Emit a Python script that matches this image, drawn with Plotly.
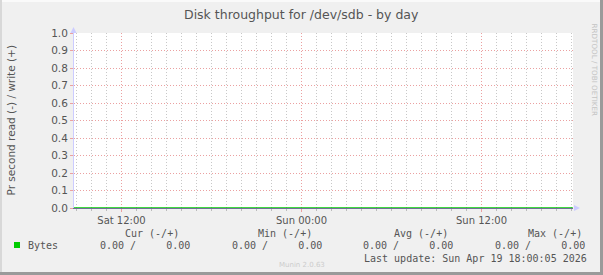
import plotly.graph_objects as go
import pandas as pd

# ---- data ----
times = pd.date_range("2026-04-18 08:50", "2026-04-19 18:05", freq="5min")
read_vals = [0.0] * len(times)
write_vals = [0.0] * len(times)
x_range = ["2026-04-18 08:50", "2026-04-19 18:06"]
title = "Disk throughput for /dev/sdb - by day"
y_title = "Pr second read (-) / write (+)"
series_name = "Bytes"
col_headers = ["Cur (-/+)", "Min (-/+)", "Avg (-/+)", "Max (-/+)"]
col_values = ["0.00 /     0.00", "0.00 /     0.00", "0.00 /     0.00", "0.00 /     0.00"]
last_update = "Last update: Sun Apr 19 18:00:05 2026"
footer = "Munin 2.0.63"
side_text = "RRDTOOL / TOBI OETIKER"

W, H = 603, 275
L, R, T, B = 74, 30, 33, 67
PW, PH = W - L - R, H - T - B


def px(x):
    return (x - L) / PW


def py(y):
    return (H - B - y) / PH


fig = go.Figure()
fig.add_trace(go.Scatter(x=times, y=[-v for v in read_vals], mode="lines",
                         line=dict(color="#00cc00", width=1), showlegend=False, hoverinfo="skip"))
fig.add_trace(go.Scatter(x=times, y=write_vals, mode="lines",
                         line=dict(color="#00cc00", width=1), showlegend=False, hoverinfo="skip"))

mono = "DejaVu Sans Mono"
sans = "DejaVu Sans"
ann = []


def add_text(x, y, text, size, family, color="#555555", xanchor="center", yanchor="middle", angle=0):
    ann.append(dict(xref="paper", yref="paper", x=px(x), y=py(y), text=text, showarrow=False,
                    xanchor=xanchor, yanchor=yanchor, textangle=angle,
                    font=dict(family=family, size=size, color=color)))


add_text(301, 14, title, 12.5, sans)
add_text(10, 120.5, y_title, 10.5, sans, angle=-90)
add_text(594, 21, side_text, 7.2, sans, color="#c4c4c4", yanchor="top", angle=90)
hdr_centers = [152, 285, 421, 555]
val_centers = [145, 277, 408, 540]
for c, h in zip(hdr_centers, col_headers):
    add_text(c, 233, h, 10, mono)
for c, v in zip(val_centers, col_values):
    add_text(c, 245, v.replace(" ", "&nbsp;"), 10, mono)
add_text(26, 245, series_name, 10, mono, xanchor="left")
add_text(589, 258, last_update, 10, mono, xanchor="right")
add_text(302, 265, footer, 7, sans, color="#cccccc")

shapes = []
# legend swatch
shapes.append(dict(type="rect", xref="paper", yref="paper", x0=px(14), x1=px(20), y0=py(248), y1=py(242),
                   fillcolor="#00cc00", line=dict(width=0), layer="above"))
# arrows
shapes.append(dict(type="path", xref="paper", yref="paper",
                   path=f"M {px(70.5)},{py(33)} L {px(76.5)},{py(33)} L {px(73.5)},{py(27)} Z",
                   fillcolor="#ccccff", line=dict(width=0), layer="above"))
shapes.append(dict(type="path", xref="paper", yref="paper",
                   path=f"M {px(574)},{py(205)} L {px(574)},{py(211)} L {px(580)},{py(208)} Z",
                   fillcolor="#ccccff", line=dict(width=0), layer="above"))
# frame
shapes.append(dict(type="rect", xref="paper", yref="paper", x0=px(600), x1=px(603), y0=py(0), y1=py(275),
                   fillcolor="#9a9a9a", line=dict(width=0), layer="below"))
shapes.append(dict(type="rect", xref="paper", yref="paper", x0=px(0), x1=px(603), y0=py(272), y1=py(275),
                   fillcolor="#9a9a9a", line=dict(width=0), layer="below"))
shapes.append(dict(type="rect", xref="paper", yref="paper", x0=px(0), x1=px(600), y0=py(0), y1=py(2),
                   fillcolor="#fafafa", line=dict(width=0), layer="below"))
shapes.append(dict(type="rect", xref="paper", yref="paper", x0=px(0), x1=px(2), y0=py(0), y1=py(272),
                   fillcolor="#d8d8d8", line=dict(width=0), layer="below"))

fig.update_layout(
    width=W, height=H,
    margin=dict(l=L, r=R, t=T, b=B, pad=0),
    paper_bgcolor="#f0f0f0", plot_bgcolor="#ffffff",
    showlegend=False,
    annotations=ann, shapes=shapes,
    xaxis=dict(
        type="date", range=x_range,
        tick0="2026-04-18 00:00", dtick=12 * 3600 * 1000,
        tickformat="%a %H:%M",
        showgrid=True, gridcolor="#eba0a0", griddash="1px,2px", gridwidth=1,
        minor=dict(dtick=3600 * 1000, tick0="2026-04-18 00:00", showgrid=True,
                   gridcolor="#c8c8c8", griddash="1px,2px", gridwidth=1,
                   ticks="outside", ticklen=2, tickcolor="#bbbbbb"),
        ticks="outside", ticklen=3, tickcolor="#eba0a0",
        showline=True, linecolor="#6f6f95", linewidth=1,
        zeroline=False, layer="above traces",
        tickfont=dict(family=sans, size=10, color="#555555"),
        fixedrange=True,
    ),
    yaxis=dict(
        range=[0, 1], dtick=0.1, tickformat=".1f",
        showgrid=True, gridcolor="#eba0a0", griddash="1px,2px", gridwidth=1,
        ticks="outside", ticklen=3, tickcolor="#eba0a0",
        showline=True, linecolor="#ccccff", linewidth=1,
        zeroline=False,
        tickfont=dict(family=sans, size=10.5, color="#555555"),
        fixedrange=True,
    ),
)

fig.write_html("out.html")
